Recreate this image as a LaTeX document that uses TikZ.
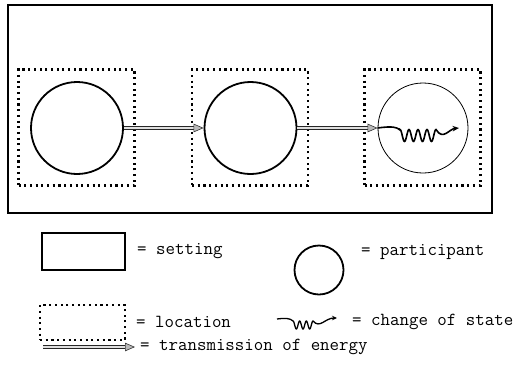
\documentclass[tikz,border=0pt]{standalone}
\usepackage{fontspec}
\usetikzlibrary{arrows.meta}
\tikzset{
  frame/.style={draw, line width=1.1pt},
  dotline/.style={draw, line width=2.2pt, dash pattern=on 2.1pt off 3.6pt},
  locbox/.style={dotline, minimum width=116pt, minimum height=116pt, inner sep=0pt},
  part/.style={draw, circle, line width=1.8pt, minimum size=92pt, inner sep=0pt},
  thinpart/.style={draw, circle, line width=0.8pt, minimum size=90pt, inner sep=0pt},
  energy/.style={draw=black!85, double=gray!25, double distance=1.5pt, line width=0.9pt,
     -{Triangle[length=10pt, width=8.5pt, fill=gray!55, color=black!80, line width=0.6pt]}},
  wave/.style={line width=1.6pt, -{Stealth[length=6.5pt, width=5.5pt, open, line width=1pt]}},
  lbl/.style={anchor=west, inner sep=0pt, font=\ttfamily\fontsize{18.4}{20}\selectfont}
}
\begin{document}
\begin{tikzpicture}[x=1pt, y=-1pt]
\useasboundingbox (0,0) rectangle (529,367);
% setting
\draw[frame] (8,5) rectangle (492,213);
% locations
\node[locbox] (b1) at (76.5,127.5) {};
\node[locbox] (b2) at (250,127.5) {};
\node[locbox] (b3) at (422.5,127.5) {};
% participants
\node[part] (c1) at (77,128) {};
\node[part] (c2) at (250.5,128) {};
\node[thinpart] (c3) at (423,128) {};
% transmission of energy
\draw[energy] (c1.east) -- (c2.west);
\draw[energy] (c2.east) -- (c3.west);
% change of state
\coordinate (w3) at (459,128);
\draw[wave] (c3.west) .. controls (392,126) and (397,127) .. (400,130)
  -- plot[domain=400:436, samples=80] (\x, {135.5-6*cos(40*(\x-400))})
  .. controls (443,141) and (449,129) .. (w3);
% legend
\node[draw, line width=2pt, minimum width=83pt, minimum height=37pt, inner sep=0pt] (ls) at (83.5,251.5) {};
\node[lbl] (ts) at (137,251) {= setting};
\node[draw, circle, line width=1.8pt, minimum size=49pt, inner sep=0pt] (lp) at (319,270) {};
\node[lbl] (tp) at (361,252) {= participant};
\node[dotline, minimum width=85pt, minimum height=35pt, inner sep=0pt] (ll) at (82.5,322.5) {};
\node[lbl] (tl) at (136,322) {= location};
\coordinate (wa) at (277,319);
\coordinate (wb) at (337,318);
\draw[line width=1.3pt, -{Stealth[length=5pt, width=4.5pt]}] (wa) .. controls (285,318) and (290,318) .. (293,321)
  -- plot[domain=293:313, samples=60] (\x, {325-4*cos(54*(\x-293))})
  .. controls (320,329) and (325,318) .. (wb);
\node[lbl] (tc) at (352,322) {= change of state};
\coordinate (ea) at (43,347);
\coordinate (eb) at (135,347);
\draw[energy] (ea) -- (eb);
\node[lbl] (te) at (140,347) {= transmission of energy};
\end{tikzpicture}
\end{document}
